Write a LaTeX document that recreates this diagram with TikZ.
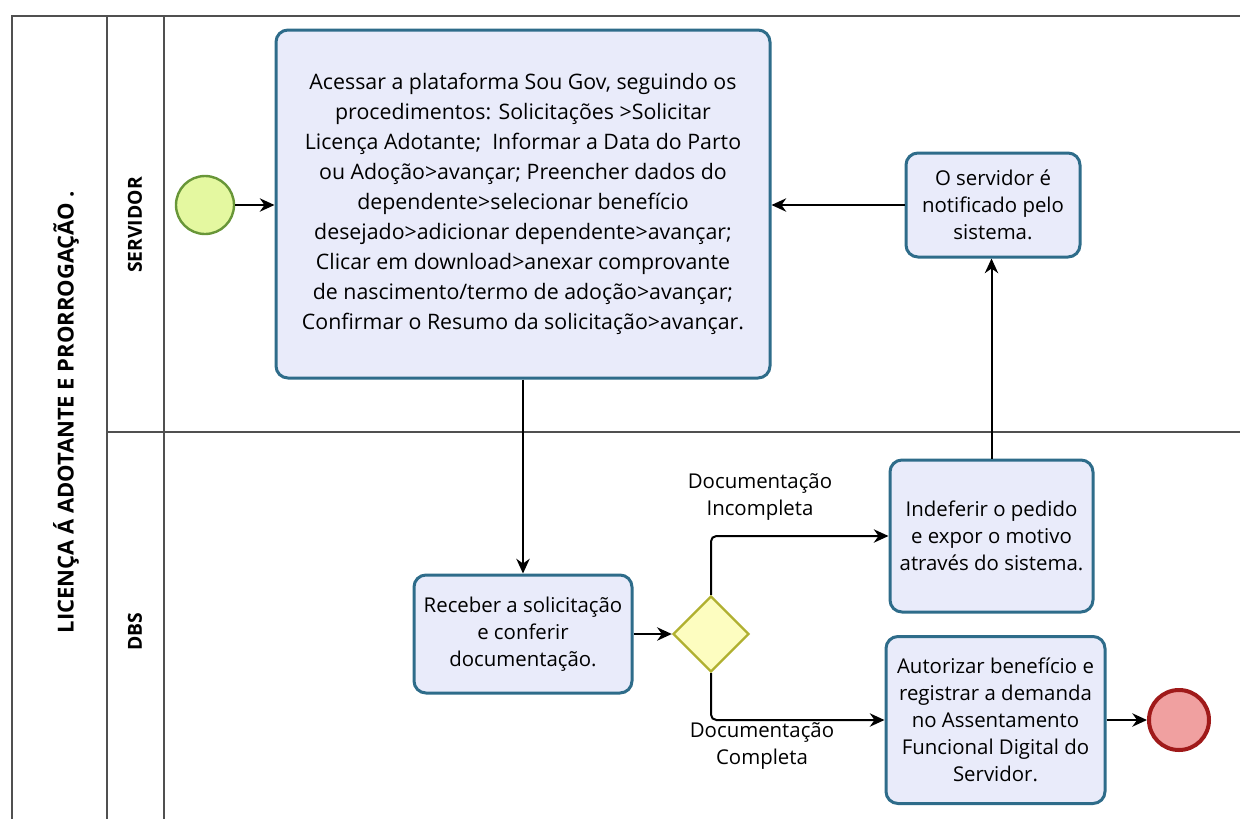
\documentclass[tikz,border=0pt]{standalone}
\usepackage{fontspec}
\setmainfont{Open Sans}
\usetikzlibrary{arrows.meta,shapes.geometric}
\definecolor{taskB}{RGB}{46,108,138}
\definecolor{taskF}{RGB}{233,235,250}
\definecolor{startB}{RGB}{104,150,56}
\definecolor{startF}{RGB}{228,248,160}
\definecolor{gwB}{RGB}{176,176,48}
\definecolor{gwF}{RGB}{253,253,192}
\definecolor{endB}{RGB}{160,26,26}
\definecolor{endF}{RGB}{240,160,160}
\definecolor{poolC}{RGB}{80,80,80}
\begin{document}
\begin{tikzpicture}[x=0.75pt,y=-0.75pt,
  task/.style={draw=taskB, fill=taskF, line width=2.25pt, rounded corners=9pt, align=center, inner sep=0pt, font=\fontsize{15.3}{20.25}\selectfont},
  flow/.style={draw=black, line width=1.5pt, -{Stealth[length=11pt,width=10pt,inset=3.5pt]}},
  pool/.style={draw=poolC, line width=1.5pt},
  lanelbl/.style={rotate=90, font=\bfseries\fontsize{14.5}{16}\selectfont},
  lbl/.style={align=center, font=\fontsize{15.3}{20}\selectfont}]
\useasboundingbox (0,0) rectangle (1240,819);
\fill[white] (0,0) rectangle (1240,819);
\draw[pool] (1240,16) -- (12,16) -- (12,819);
\draw[pool] (107,16) -- (107,819);
\draw[pool] (164,16) -- (164,819);
\draw[pool] (107,432) -- (1240,432);
\node[lanelbl, font=\bfseries\fontsize{16.5}{18}\selectfont] (pl) at (66,412) {LICENÇA Á ADOTANTE E PRORROGAÇÃO .};
\node[lanelbl] (l1) at (135,225) {SERVIDOR};
\node[lanelbl] (l2) at (135,632) {DBS};
\node[circle, draw=startB, fill=startF, line width=1.8pt, minimum size=43.5pt, inner sep=0pt] (start) at (205,205) {};
\node[task, font=\fontsize{16}{22.5}\selectfont, minimum width=370.5pt, minimum height=261pt] (t1) at (523,204) {Acessar a plataforma Sou Gov, seguindo os\\procedimentos: Solicitações >Solicitar\\Licença Adotante;~~Informar a Data do Parto\\ou Adoção>avançar; Preencher dados do\\dependente>selecionar benefício\\desejado>adicionar dependente>avançar;\\Clicar em download>anexar comprovante\\de nascimento/termo de adoção>avançar;\\Confirmar o Resumo da solicitação>avançar.};
\node[task, minimum width=130.5pt, minimum height=78pt] (t2) at (993,205) {O servidor é\\notificado pelo\\sistema.};
\node[task, minimum width=163.5pt, minimum height=88.5pt] (t3) at (523,634) {Receber a solicitação\\e conferir\\documentação.};
\node[diamond, draw=gwB, fill=gwF, line width=1.8pt, minimum width=57pt, minimum height=57pt, inner sep=0pt, aspect=1] (gw) at (711,634) {};
\node[task, minimum width=152.25pt, minimum height=114pt] (t4) at (991.5,536) {Indeferir o pedido\\e expor o motivo\\através do sistema.};
\node[task, minimum width=164.25pt, minimum height=125.25pt] (t5) at (995.5,720) {Autorizar benefício e\\registrar a demanda\\no Assentamento\\Funcional Digital do\\Servidor.};
\node[circle, draw=endB, fill=endF, line width=3pt, minimum size=45pt, inner sep=0pt] (end) at (1179,720) {};
\node[lbl] (la) at (760,497) {Documentação\\Incompleta};
\node[lbl] (lb) at (762,746) {Documentação\\Completa};
\draw[flow] (start.east) -- (start.east -| t1.west);
\draw[flow] (t2.west) -- (t2.west -| t1.east);
\draw[flow] (t1.south) -- (t3.north);
\draw[flow] (t3.east) -- (gw.west);
\draw[flow, rounded corners=4pt] (gw.north) |- (t4.west);
\draw[flow, rounded corners=4pt] (gw.south) |- (t5.west);
\draw[flow] (t4.north) -- (t4.north |- t2.south);
\draw[flow] (t5.east) -- (end.west);
\end{tikzpicture}
\end{document}
